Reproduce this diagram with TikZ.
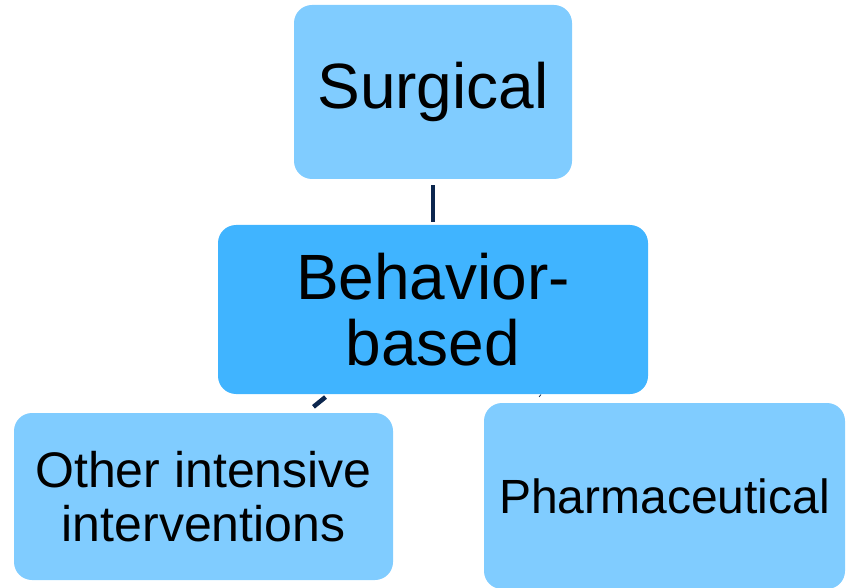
\documentclass[tikz,border=0pt]{standalone}
\usepackage{fontspec}
\setmainfont{Liberation Sans}
\usepackage{tikz}

\definecolor{boxlight}{RGB}{128,204,255}
\definecolor{boxdark}{RGB}{64,180,255}
\definecolor{linknavy}{RGB}{12,38,78}

\begin{document}
\begin{tikzpicture}[x=1pt,y=-1pt,
    box/.style={fill=boxlight,rounded corners=18pt,inner sep=0pt,align=center,text=black},
    bigtext/.style={font=\fontsize{64}{66}\selectfont},
    smalltext/.style={font=\fontsize{48}{54}\selectfont},
    link/.style={draw=linknavy,line width=4.5pt}]
    \useasboundingbox (0,0) rectangle (846,588);

    % draw boxes
    \node[box,bigtext,minimum width=278pt,minimum height=174pt] (surgical) at (433,92) {Surgical};
    \node[box,bigtext,fill=boxdark,minimum width=430pt,minimum height=169pt] (behavior) at (433,309.5) {Behavior-\\based};
    \node[box,smalltext,font=\fontsize{50}{54}\selectfont,minimum width=379pt,minimum height=167pt] (other) at (203.5,496.5) {Other intensive\\interventions};
    \node[box,smalltext,minimum width=361pt,minimum height=186pt] (pharma) at (664.5,496) {Pharmaceutical};

    % draw links
    \draw[link,shorten <=6pt,shorten >=3pt] (surgical) -- (behavior);
    \draw[link,shorten <=4.5pt,shorten >=9.5pt] (behavior) -- (other);
    \draw[link,line width=3pt,shorten <=2pt,shorten >=11pt] (behavior) -- (pharma);

\end{tikzpicture}
\end{document}
